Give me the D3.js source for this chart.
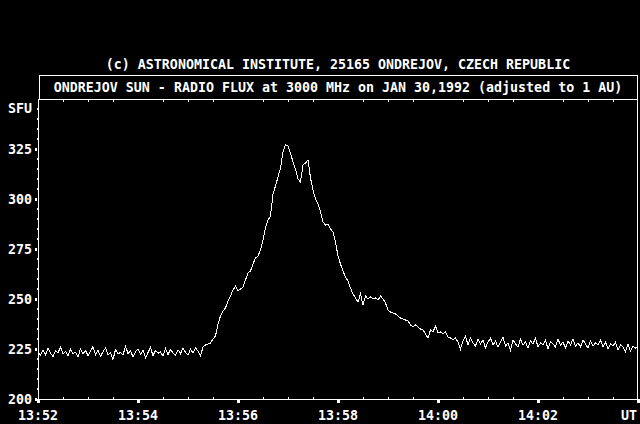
<!DOCTYPE html>
<html lang="en">
<head>
    <meta charset="UTF-8">
    <title>Ondrejov radio flux</title>
    <script src="https://cdn.jsdelivr.net/npm/d3@7"></script>
    <style>
        body { margin: 0; background: #000; }
        svg { display: block; }
        text { font-family: "DejaVu Sans Mono", monospace; font-weight: bold; fill: #fff; }
    </style>
</head>
<body>
<script>
    // radio flux samples, one every 3 s from 13:52:00 UT
    var startLabel = '13:52';
    var stepSec = 3;
    var flux = [
        223.5, 221.8, 224.6, 222.1, 225.3, 222.9, 221.2, 224.0, 223.1, 226.0, 222.4, 223.8, 221.5, 224.9, 222.7, 223.3, 220.9, 225.1, 222.6, 224.2,
        221.7, 223.9, 226.2, 222.0, 224.4, 221.3, 223.6, 225.5, 222.2, 223.0, 219.8, 224.7, 222.5, 223.4, 221.9, 226.4, 222.8, 224.1, 221.0, 223.7,
        225.0, 222.3, 224.5, 220.6, 223.2, 225.8, 221.6, 224.3, 222.9, 223.5, 221.4, 225.2, 222.1, 224.8, 223.0, 221.8, 224.6, 222.7, 225.4, 223.3,
        221.9, 224.9, 223.1, 225.6, 224.0,
        221.5, 226.0, 227.0, 227.5, 228.0, 230.0, 231.5, 237.5, 241.5, 244.0, 245.5, 249.0, 251.5, 254.5, 256.5, 254.0, 255.0, 256.0, 259.5, 263.0,
        264.0, 267.5, 270.5, 271.5, 274.5, 279.5, 285.5, 289.5, 291.5, 302.5, 306.5, 311.0, 315.5, 323.5, 327.0, 326.5, 323.0, 318.5, 315.0, 310.0,
        308.5, 317.0, 318.0, 319.5, 310.5, 304.5, 300.0, 297.5, 293.5, 288.5, 287.0, 287.5, 285.0, 283.5, 278.5, 271.5, 267.5, 264.0, 261.0, 259.0,
        255.5, 252.5, 250.5, 248.5, 252.5, 247.0, 251.5, 250.0, 251.0, 250.0, 250.5, 249.5, 251.5, 250.0, 248.0, 244.5, 243.5, 243.0, 242.5, 241.5,
        240.5, 240.0, 239.5, 239.0, 237.0, 236.0, 237.0, 236.0, 235.0, 234.5, 232.5, 230.5, 234.5, 233.5, 236.5, 233.0, 233.5, 232.5, 233.5, 231.0,
        230.5, 229.5, 230.5, 228.5, 225.0,
        229.0, 231.5, 227.0, 230.5, 228.0, 226.5, 230.0, 227.5, 229.5, 225.5, 228.5, 230.5, 227.0, 229.0, 226.0, 228.5, 231.0, 226.5, 228.0, 224.5,
        229.5, 227.5, 226.0, 230.0, 227.0, 228.5, 225.5, 229.0, 227.5, 230.5, 226.0, 228.0, 227.0, 229.5, 225.0, 228.5, 227.5, 226.0, 230.0, 227.0,
        228.5, 225.5, 229.0, 227.0, 230.0, 226.5, 228.0, 226.0, 229.5, 227.5, 225.5, 229.0, 226.5, 228.0, 227.0, 229.5, 226.0, 228.5, 225.0, 227.5,
        226.5, 228.5, 224.5, 227.0, 226.0, 223.5, 227.5, 224.0, 226.5, 225.5, 226.0
    ];
    var timeLabels = ['13:52', '13:54', '13:56', '13:58', '14:00', '14:02'];
    var fluxTicks = [200, 225, 250, 275, 300, 325];
    var title1 = '(c) ASTRONOMICAL INSTITUTE, 25165 ONDREJOV, CZECH REPUBLIC';
    var title2 = 'ONDREJOV SUN - RADIO FLUX at 3000 MHz on JAN 30,1992 (adjusted to 1 AU)';

    var width = 640, height = 424;
    var pLeft = 38, pRight = 637, pTop = 99, pBottom = 399;

    var svg = d3.select('body').append('svg')
            .attr('width', width)
            .attr('height', height)
            .style('background', '#000');

    var x = d3.scaleLinear().domain([0, 720]).range([pLeft, pRight + 1]);
    var y = d3.scaleLinear().domain([200, 350]).range([pBottom, pTop]);

    // titles
    svg.append('text').attr('x', 338).attr('y', 69).attr('text-anchor', 'middle')
            .style('font-size', '13.3px').text(title1);
    svg.append('rect').attr('x', 39.5).attr('y', 75.5).attr('width', pRight - 39).attr('height', pTop - 75)
            .attr('fill', 'none').attr('stroke', '#fff').attr('shape-rendering', 'crispEdges');
    svg.append('text').attr('x', 338).attr('y', 92).attr('text-anchor', 'middle')
            .style('font-size', '13.3px').text(title2);

    // frame
    svg.append('path')
            .attr('d', 'M' + (pLeft + 0.5) + ',' + (pTop + 0.5) + 'V' + (pBottom + 0.5) + 'H' + (pRight + 0.5) + 'V' + (pTop + 0.5))
            .attr('fill', 'none').attr('stroke', '#fff').attr('shape-rendering', 'crispEdges');
    svg.append('line').attr('x1', pLeft).attr('x2', pRight + 1).attr('y1', pTop + 0.5).attr('y2', pTop + 0.5)
            .attr('stroke', '#fff').attr('shape-rendering', 'crispEdges');

    // minor time ticks every 30 s
    var minorT = d3.range(30, 720, 30).filter(function (t) { return t % 120 !== 0; });
    svg.selectAll('.tb').data(minorT).enter().append('rect')
            .attr('x', function (d) { return Math.round(x(d)); }).attr('y', pBottom - 2)
            .attr('width', 1).attr('height', 2).attr('fill', '#fff');
    svg.selectAll('.tt').data(minorT).enter().append('rect')
            .attr('x', function (d) { return Math.round(x(d)); }).attr('y', pTop + 1)
            .attr('width', 1).attr('height', 2).attr('fill', '#fff');

    // major time ticks and labels
    var majorT = timeLabels.map(function (d, i) { return i * 120; }).concat([720]);
    svg.selectAll('.tm').data(majorT).enter().append('rect')
            .attr('x', function (d) { return Math.round(x(d)) - 1; }).attr('y', pBottom)
            .attr('width', 3).attr('height', 4).attr('fill', '#fff');
    svg.selectAll('.tl').data(timeLabels).enter().append('text')
            .attr('x', function (d, i) { return x(i * 120); })
            .attr('y', 420).attr('text-anchor', 'middle')
            .style('font-size', '13.3px').text(function (d) { return d; });
    svg.append('text').attr('x', 637).attr('y', 420).attr('text-anchor', 'end')
            .style('font-size', '13.3px').text('UT');

    // flux ticks
    var minorF = d3.range(205, 350, 5).filter(function (v) { return v % 25 !== 0; });
    svg.selectAll('.fm').data(minorF).enter().append('rect')
            .attr('x', pLeft - 1).attr('y', function (d) { return Math.round(y(d)) - 1; })
            .attr('width', 1).attr('height', 2).attr('fill', '#fff');
    svg.selectAll('.fM').data(fluxTicks).enter().append('rect')
            .attr('x', pLeft - 3).attr('y', function (d) { return Math.round(y(d)) - 1; })
            .attr('width', 2).attr('height', 3).attr('fill', '#fff');
    svg.selectAll('.fl').data(fluxTicks).enter().append('text')
            .attr('x', 32).attr('y', function (d) { return y(d) + 5; })
            .attr('text-anchor', 'end')
            .style('font-size', '13.3px').text(function (d) { return d; });
    svg.append('text').attr('x', 32).attr('y', 113).attr('text-anchor', 'end')
            .style('font-size', '13.3px').text('SFU');

    // flux curve
    var line = d3.line()
            .x(function (d, i) { return x(i * stepSec); })
            .y(function (d) { return y(d); });
    svg.append('path')
            .datum(flux)
            .attr('d', line)
            .attr('fill', 'none')
            .attr('stroke', '#fff')
            .attr('stroke-width', 1)
            .attr('shape-rendering', 'crispEdges');
</script>
</body>
</html>
